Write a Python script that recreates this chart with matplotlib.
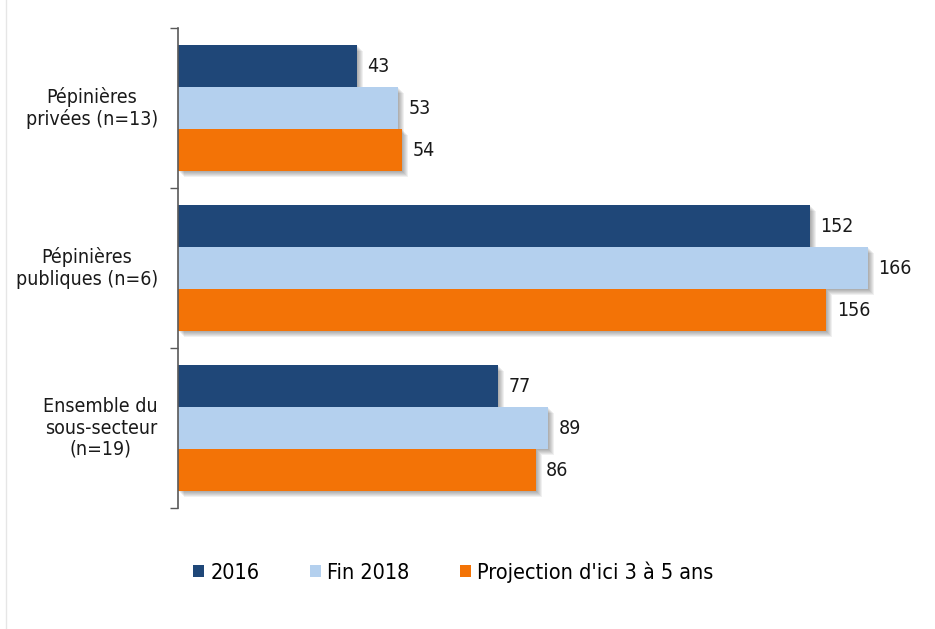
import matplotlib.pyplot as plt
import matplotlib.transforms as mtransforms
from matplotlib.patches import Patch
from matplotlib.lines import Line2D
import numpy as np

categories = ["Pépinières\nprivées (n=13)", "Pépinières\npubliques (n=6)",
              "Ensemble du\nsous-secteur\n(n=19)"]
series_names = ["2016", "Fin 2018", "Projection d'ici 3 à 5 ans"]
v2016 = [43, 152, 77]
v2018 = [53, 166, 89]
vproj = [54, 156, 86]
colors = ["#1F4778", "#B4D0EE", "#F37306"]

plt.rcParams['font.family'] = ['DejaVu Sans']
plt.rcParams['font.stretch'] = 'condensed'

fig = plt.figure(figsize=(9.35, 6.29), dpi=100)
ax = fig.add_axes([178 / 935, 1 - 508 / 629, 752 / 935, 480 / 629])

y = np.arange(len(categories))
h = 42 / 160
series = [v2016, v2018, vproj]

for k, (vals, col) in enumerate(zip(series, colors)):
    pos = y + (k - 1) * h
    # soft drop shadow: a few offset translucent copies behind the bar
    for d in (1, 2, 3, 4, 5, 6):
        off = mtransforms.ScaledTranslation(d / 100, -d / 100, fig.dpi_scale_trans)
        ax.barh(pos, vals, height=h, color="#000000", alpha=0.06,
                linewidth=0, transform=ax.transData + off, zorder=1)
    ax.barh(pos, vals, height=h, color=col, linewidth=0, zorder=2)
    for p, v in zip(pos, vals):
        ax.annotate(str(v), (v, p), xytext=(7.5, 0), textcoords="offset points",
                    ha="left", va="center", fontsize=14, color="#1a1a1a")

ax.set_xlim(0, 752 / 4.157)
ax.set_ylim(2.5, -0.5)
ax.set_xticks([])
ax.set_yticks([-0.5, 0.5, 1.5, 2.5])
ax.set_yticklabels([])
ax.tick_params(axis="y", length=6, width=1, color="#595959")
for s in ["top", "right", "bottom"]:
    ax.spines[s].set_visible(False)
ax.spines["left"].set_color("#595959")
ax.spines["left"].set_linewidth(1.2)

for i, lab in enumerate(categories):
    ax.text(-20 / 752, i, lab, transform=ax.get_yaxis_transform(), ha="right",
            va="center", multialignment="center", fontsize=14, color="#1a1a1a",
            linespacing=1.15)

handles = [Patch(facecolor=c, edgecolor="none") for c in colors]
fig.legend(handles, series_names, loc="center", bbox_to_anchor=(0.485, 1 - 572 / 629),
           ncol=3, frameon=False, fontsize=15.5, handlelength=0.5, handleheight=0.5,
           handletextpad=0.3, columnspacing=2.35)

# thin frame edge on the left
fig.add_artist(Line2D([6 / 935, 6 / 935], [0, 1], color="#e6e6e6", linewidth=1,
                      transform=fig.transFigure))

fig.savefig("out.png", dpi=100)
